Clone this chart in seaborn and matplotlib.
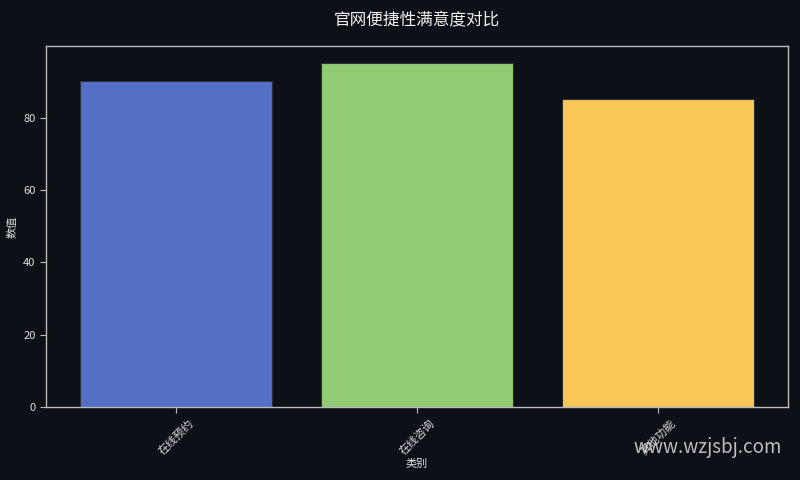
import matplotlib
matplotlib.use("Agg")
import matplotlib.pyplot as plt
import seaborn as sns
import pandas as pd

categories = ["在线预约", "在线咨询", "其他功能"]
values = [90, 95, 85]
colors = ["#5470c6", "#91cc75", "#fac858"]

title = "官网便捷性满意度对比"
xlabel = "类别"
ylabel = "数值"
watermark = "www.wzjsbj.com"

bg = "#0d1017"
sns.set_theme(style="dark")
plt.rcParams['font.family'] = ['Noto Sans CJK SC', 'DejaVu Sans']
plt.rcParams['axes.unicode_minus'] = False

df = pd.DataFrame({"cat": categories, "val": values})

fig = plt.figure(figsize=(8, 4.8), dpi=100, facecolor=bg)
ax = fig.add_axes([0.0575, 0.152, 0.9275, 0.752])
ax.set_facecolor(bg)
sns.barplot(data=df, x="cat", y="val", hue="cat", palette=colors, legend=False,
            width=0.8, ax=ax, edgecolor="#2a2f3a", linewidth=0.8, saturation=1)
ax.set_xlim(-0.54, 2.54)
ax.set_ylim(0, max(values) * 1.05)

ax.set_title(title, color="#f0f0f0", fontsize=12, pad=15)
ax.set_xlabel(xlabel, color="#e0e0e0", fontsize=8, labelpad=2)
ax.set_ylabel(ylabel, color="#e0e0e0", fontsize=8)
ax.tick_params(axis="x", colors="#bbbbbb", labelcolor="#e0e0e0", labelsize=8, rotation=45, length=4, width=0.8, bottom=True)
ax.tick_params(axis="y", colors="#bbbbbb", labelcolor="#e0e0e0", labelsize=8, length=4, width=0.8, left=True)
ax.grid(False)
for s in ax.spines.values():
    s.set_visible(True)
    s.set_color("#bbbbbb")
    s.set_linewidth(1.0)

fig.text(0.977, 0.067, watermark, color="#dddddd", alpha=0.85, fontsize=13.5,
         ha="right", va="center")

fig.savefig("out.png", dpi=100, facecolor=bg)
